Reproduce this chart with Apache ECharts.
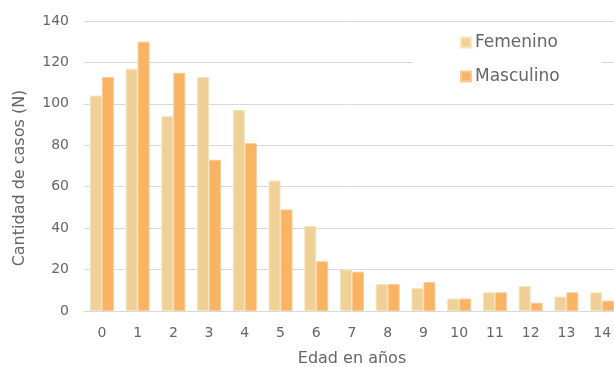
<!DOCTYPE html>
<html><head><meta charset="utf-8">
<script src="https://cdn.jsdelivr.net/npm/echarts@6/dist/echarts.min.js"></script>
<style>html,body{margin:0;padding:0;background:#fff}#c{width:614px;height:367px}</style>
</head><body><div id="c"></div>
<script>
const categories = ['0','1','2','3','4','5','6','7','8','9','10','11','12','13','14'];
const femenino = [104,117,94,113,97,63,41,20,13,11,6,9,12,7,9];
const masculino = [113,130,115,73,81,49,24,19,13,14,6,9,4,9,5];
const seriesNames = ['Femenino','Masculino'];
const FONT = 'DejaVu Sans';
const TXT = '#666666';
const chart = echarts.init(document.getElementById('c'), null, {renderer:'canvas'});
chart.setOption({
  animation:false,
  textStyle:{fontFamily:FONT},
  grid:{left:84, top:21, width:536, height:290, containLabel:false, outerBoundsMode:'none'},
  legend:{
    orient:'vertical', left:413, top:24,
    padding:[10,42,14,47], itemGap:17,
    itemWidth:10, itemHeight:10,
    backgroundColor:'#fff',
    icon:'rect',
    textStyle:{fontFamily:FONT, fontSize:17, color:TXT, padding:[0,0,0,-1]},
    data:seriesNames
  },
  xAxis:{
    type:'category', data:categories,
    axisTick:{show:false},
    axisLine:{lineStyle:{color:'#d9d9d9', width:1}},
    axisLabel:{color:TXT, fontSize:14, fontFamily:FONT, margin:15, interval:0},
    name:'Edad en años', nameLocation:'middle', nameGap:40,
    nameTextStyle:{color:TXT, fontSize:16, fontFamily:FONT}
  },
  yAxis:{
    type:'value', min:0, max:140, interval:20,
    axisLine:{show:false}, axisTick:{show:false},
    splitLine:{lineStyle:{color:'#d9d9d9', width:1}},
    axisLabel:{color:TXT, fontSize:14, fontFamily:FONT, margin:15},
    name:'Cantidad de casos (N)', nameLocation:'middle', nameGap:56, nameRotate:90,
    nameTextStyle:{color:TXT, fontSize:16, fontFamily:FONT, padding:[0,24,0,0]}
  },
  series:[
    {name:seriesNames[0], type:'bar', data:femenino, barGap:'0%', barCategoryGap:'33%',
     itemStyle:{color:'#EFD096', borderColor:'#F6E3BF', borderWidth:1}},
    {name:seriesNames[1], type:'bar', data:masculino, barGap:'0%', barCategoryGap:'33%',
     itemStyle:{color:'#F8B363', borderColor:'#FBCB93', borderWidth:1}}
  ]
});
</script></body></html>
